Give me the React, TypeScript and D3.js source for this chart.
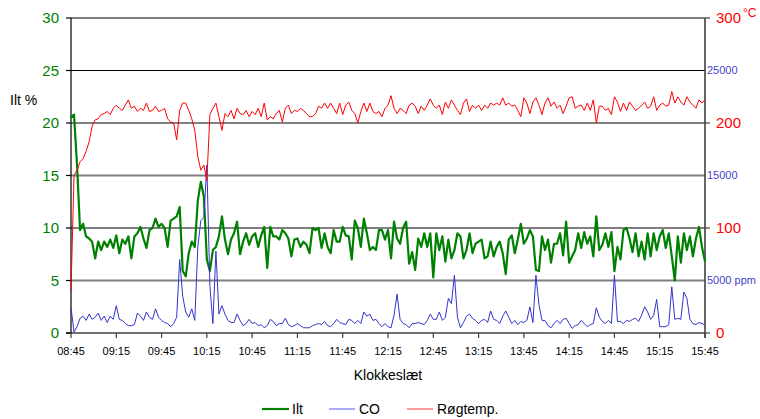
import React from "react";
import * as d3 from "d3";

// sampling: one reading every 2 minutes from 08:45 (minute 0) to 15:45 (minute 420)
const sampleStepMin = 2;

const ilt: number[] = [
  20.5, 20.8, 16.0, 9.8, 10.4, 9.2, 9.0, 8.7, 7.1, 8.7,
  7.9, 8.7, 8.2, 8.9, 8.1, 9.3, 7.6, 8.9, 8.5, 9.2,
  7.1, 9.2, 9.5, 10.1, 9.0, 8.1, 9.8, 10.0, 10.9, 10.1,
  10.4, 10.0, 8.2, 10.7, 10.9, 11.1, 12.0, 5.9, 5.4, 7.6,
  8.7, 8.2, 12.6, 14.4, 13.0, 7.0, 5.9, 7.9, 8.2, 9.2,
  11.1, 8.9, 7.5, 8.9, 9.5, 10.6, 7.5, 8.7, 9.5, 8.4,
  9.2, 9.5, 8.2, 9.3, 10.1, 6.2, 10.1, 9.2, 9.2, 8.9,
  9.8, 9.5, 9.0, 7.3, 8.9, 9.0, 8.2, 8.7, 8.4, 7.6,
  10.0, 9.8, 10.0, 8.1, 9.5, 8.2, 7.6, 9.8, 8.7, 8.7,
  10.1, 9.3, 9.2, 7.0, 10.7, 10.0, 8.2, 10.9, 9.5, 7.9,
  8.2, 7.9, 9.8, 9.8, 8.9, 9.8, 7.1, 10.6, 9.0, 8.5,
  10.0, 10.6, 6.6, 7.7, 6.0, 9.0, 8.2, 9.5, 8.2, 9.5,
  5.3, 9.5, 7.9, 9.2, 6.8, 8.9, 7.1, 7.9, 9.5, 9.2,
  7.1, 7.9, 9.5, 7.6, 8.5, 8.7, 8.9, 7.1, 7.3, 8.7,
  7.3, 8.2, 8.7, 7.6, 5.6, 8.9, 9.3, 7.6, 8.9, 10.4,
  8.5, 9.0, 9.8, 9.2, 6.0, 5.9, 9.2, 7.9, 8.9, 6.7,
  8.5, 8.5, 9.5, 7.4, 10.6, 6.7, 7.3, 7.9, 9.5, 8.1,
  9.6, 8.5, 9.2, 7.3, 11.1, 7.9, 8.4, 9.5, 8.2, 9.6,
  5.9, 8.2, 7.0, 9.8, 10.0, 9.0, 7.7, 9.5, 7.3, 8.7,
  7.0, 9.5, 7.3, 9.5, 7.9, 9.2, 9.8, 8.1, 9.5, 7.3,
  5.0, 9.2, 6.7, 9.5, 7.9, 9.2, 7.3, 9.0, 10.1, 8.2,
  6.8,
];

const coPpm: number[] = [
  2400, 100, 600, 1400, 1600, 1200, 1800, 1300, 1500, 1900,
  1200, 1600, 1000, 1600, 1300, 2600, 1300, 1200, 900, 700,
  700, 800, 1900, 1600, 1200, 2000, 1500, 1300, 2300, 1500,
  1200, 1000, 900, 600, 900, 1500, 7000, 3500, 2000, 1500,
  2300, 1200, 8200, 10700, 11000, 16000, 4500, 900, 7800, 1800,
  2600, 1800, 1200, 1000, 1000, 1800, 1200, 700, 900, 1300,
  900, 1000, 700, 800, 500, 700, 1300, 1100, 700, 900,
  900, 1400, 800, 600, 700, 900, 700, 500, 500, 500,
  700, 800, 900, 800, 1100, 700, 600, 900, 1300, 1000,
  900, 800, 1300, 1200, 900, 1200, 900, 2000, 1600, 1800,
  1200, 1300, 900, 600, 900, 600, 500, 1700, 3700, 1300,
  900, 800, 500, 900, 900, 1000, 900, 800, 1200, 1800,
  1300, 1300, 2000, 1200, 1500, 3300, 2800, 5500, 1500, 500,
  1000, 1600, 1800, 1400, 1200, 900, 1200, 1300, 1000, 2100,
  1300, 1200, 900, 1600, 2100, 1500, 900, 1200, 800, 1100,
  1000, 1200, 2500, 1000, 5500, 2700, 1200, 1200, 700, 500,
  900, 1200, 900, 1300, 1400, 900, 440, 700, 800, 1200,
  900, 600, 800, 900, 2400, 1500, 1100, 900, 1200, 900,
  5500, 1100, 1100, 900, 1200, 1100, 1300, 1400, 1100, 1700,
  2500, 2000, 1300, 1700, 3200, 600, 600, 600, 800, 4400,
  1300, 1400, 1300, 3900, 3300, 1300, 900, 800, 1000, 900,
  750,
];

const roegtemp: number[] = [
  40, 150, 155, 163, 166, 173, 182, 197, 203, 204,
  208, 209, 211, 208, 214, 217, 214, 212, 217, 222,
  214, 216, 211, 214, 212, 219, 211, 212, 216, 211,
  212, 214, 204, 201, 200, 184, 212, 219, 219, 212,
  204, 193, 168, 155, 160, 145, 208, 214, 219, 206,
  193, 209, 206, 212, 204, 214, 209, 208, 212, 206,
  211, 208, 214, 206, 219, 203, 206, 204, 209, 212,
  201, 214, 217, 209, 212, 211, 214, 212, 209, 206,
  206, 209, 216, 214, 219, 214, 219, 214, 209, 219,
  208, 217, 220, 212, 209, 200, 211, 219, 211, 219,
  211, 209, 211, 206, 214, 217, 226, 214, 209, 214,
  212, 209, 217, 219, 216, 209, 216, 212, 217, 223,
  217, 214, 217, 208, 220, 214, 222, 217, 212, 208,
  219, 223, 211, 217, 214, 217, 212, 217, 214, 219,
  217, 219, 217, 224, 217, 219, 216, 217, 212, 206,
  224, 219, 209, 220, 224, 217, 208, 219, 224, 216,
  220, 214, 217, 209, 216, 224, 225, 214, 216, 217,
  212, 219, 212, 222, 200, 216, 216, 212, 214, 208,
  225, 220, 211, 219, 212, 220, 216, 212, 214, 217,
  220, 214, 216, 225, 212, 217, 219, 216, 217, 230,
  219, 225, 220, 217, 225, 220, 217, 214, 222, 219,
  222,
];

const timeTickLabels = [
  "08:45", "09:15", "09:45", "10:15", "10:45", "11:15", "11:45", "12:15",
  "12:45", "13:15", "13:45", "14:15", "14:45", "15:15", "15:45",
];
const leftTicks = [0, 5, 10, 15, 20, 25, 30];
const tempTicks = [0, 100, 200, 300];
const coTicks = [5000, 15000, 25000];

const FONT = "'Liberation Sans', Arial, Helvetica, sans-serif";
const GREEN = "#008000";
const RED = "#ff0000";
const BLUE = "#3333cc";

export default function App() {
  const W = 760, H = 419;
  const L = 71, R = 705, T = 18, B = 333;
  const x = d3.scaleLinear().domain([0, 420]).range([L, R]);
  const yL = d3.scaleLinear().domain([0, 30]).range([B, T]);
  const yT = d3.scaleLinear().domain([0, 300]).range([B, T]);
  const yC = d3.scaleLinear().domain([0, 30000]).range([B, T]);

  const mk = (arr: number[], ys: d3.ScaleLinear<number, number>) =>
    d3.line<number>().x((_, i) => x(i * sampleStepMin)).y((d) => ys(d))(arr) || "";

  const blackGrid = new Set([25, 10]);

  return (
    <svg width={W} height={H} style={{ position: "absolute", left: 0, top: 0, background: "#fff" }} fontFamily={FONT}>
      <rect x={0} y={0} width={W} height={H} fill="#fff" />
      {/* gridlines */}
      {leftTicks.filter((v) => v > 0 && v < 30).map((v) => (
        <line key={"g" + v} x1={L} x2={R} y1={yL(v)} y2={yL(v)}
          stroke={blackGrid.has(v) ? "#000" : "#808080"} strokeWidth={blackGrid.has(v) ? 1.2 : 2} />
      ))}
      <line x1={L} x2={R} y1={T} y2={T} stroke="#000" strokeWidth={1.2} />
      <line x1={L - 5} x2={R} y1={B} y2={B} stroke="#404040" strokeWidth={1.6} />
      {/* axes */}
      <line x1={L} x2={L} y1={T} y2={B} stroke="#000" strokeWidth={1.2} />
      <line x1={R} x2={R} y1={T} y2={B + 5} stroke="#404040" strokeWidth={1.6} />
      {leftTicks.map((v) => (
        <g key={"lt" + v}>
          <line x1={L - 5} x2={L} y1={yL(v)} y2={yL(v)} stroke="#000" strokeWidth={1.2} />
          <text x={59} y={yL(v)} dy="0.35em" textAnchor="end" fontSize={15} fill={GREEN}>{v}</text>
        </g>
      ))}
      {tempTicks.map((v) => (
        <g key={"rt" + v}>
          <line x1={R} x2={R + 5} y1={yT(v)} y2={yT(v)} stroke="#404040" strokeWidth={1.2} />
          <text x={716} y={yT(v)} dy="0.35em" fontSize={15} fill={RED}>{v}</text>
        </g>
      ))}
      <text x={743} y={17} fontSize={12} fill={RED}>°C</text>
      {coTicks.map((v, i) => (
        <text key={"co" + v} x={707} y={yC(v)} dy="0.35em" fontSize={11} fill="#4444cc">
          {i === 0 ? `${v} ppm` : v}
        </text>
      ))}
      {timeTickLabels.map((lab, i) => (
        <g key={lab}>
          <line x1={x(i * 30)} x2={x(i * 30)} y1={B} y2={B + 5} stroke="#404040" strokeWidth={1.2} />
          <text x={x(i * 30)} y={351} dy="0.35em" textAnchor="middle" fontSize={11} fill="#000">{lab}</text>
        </g>
      ))}
      <text x={10} y={100} dy="0.35em" fontSize={14} fill="#000">Ilt %</text>
      <text x={388} y={375} dy="0.35em" textAnchor="middle" fontSize={14} fill="#000">Klokkeslæt</text>

      {/* series */}
      <path d={mk(ilt, yL)} fill="none" stroke={GREEN} strokeWidth={2.2} strokeLinejoin="round" />
      <path d={mk(coPpm, yC)} fill="none" stroke={BLUE} strokeWidth={1} strokeLinejoin="round" />
      <path d={mk(roegtemp, yT)} fill="none" stroke={RED} strokeWidth={1} strokeLinejoin="round" />

      {/* legend */}
      <line x1={262} x2={289} y1={409} y2={409} stroke={GREEN} strokeWidth={2.2} />
      <text x={292} y={409} dy="0.35em" fontSize={14} fill="#000">Ilt</text>
      <line x1={329} x2={355} y1={409} y2={409} stroke="#7777ee" strokeWidth={1.2} />
      <text x={359} y={409} dy="0.35em" fontSize={14} fill="#000">CO</text>
      <line x1={407} x2={433} y1={409} y2={409} stroke="#ff5555" strokeWidth={1.2} />
      <text x={437} y={409} dy="0.35em" fontSize={14} fill="#000">Røgtemp.</text>
    </svg>
  );
}
